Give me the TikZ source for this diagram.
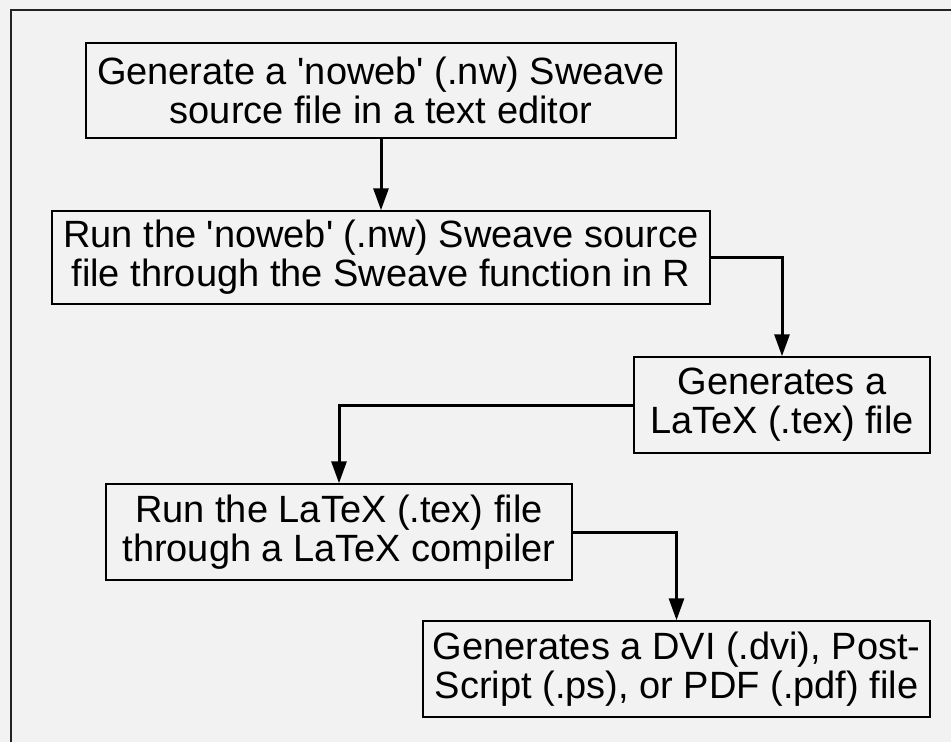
\documentclass[tikz,border=0pt]{standalone}
\usepackage{fontspec}
\setmainfont{Liberation Sans}
\usetikzlibrary{arrows.meta}
\definecolor{bg}{HTML}{F2F2F2}
\definecolor{frame}{HTML}{222222}
\begin{document}
\begin{tikzpicture}[x=1pt,y=-1pt,
  box/.style={draw=black, line width=1.5pt, fill=bg, rectangle, inner sep=0pt,
    align=center, font=\fontsize{38}{39}\selectfont},
  flow/.style={line width=3pt, -{Triangle[length=22pt,width=15pt]}}]
\useasboundingbox (0,0) rectangle (951,742);
\fill[bg] (0,0) rectangle (951,742);
\draw[frame, line width=2pt] (960,10) -- (11,10) -- (11,750);
\node[box, minimum width=590pt, minimum height=95pt] (n1) at (381,90.5)
  {Generate a \textquotesingle noweb\textquotesingle{} (.nw) Sweave\\source file in a text editor};
\node[box, minimum width=658pt, minimum height=93pt] (n2) at (381,257.5)
  {Run the \textquotesingle noweb\textquotesingle{} (.nw) Sweave source\\file through the Sweave function in R};
\node[box, minimum width=296pt, minimum height=96pt] (n3) at (782,405)
  {Generates a\\LaTeX (.tex) file};
\node[box, minimum width=466pt, minimum height=96pt] (n4) at (339,532)
  {Run the LaTeX (.tex) file\\through a LaTeX compiler};
\node[box, minimum width=507pt, minimum height=96pt] (n5) at (676.5,669)
  {Generates a DVI (.dvi), Post-\\Script (.ps), or PDF (.pdf) file};
\draw[flow] (n1.south) -- (n2.north);
\draw[flow] (n2.east) -| (n3.north);
\draw[flow] (n3.west) -| (n4.north);
\draw[flow] (n4.east) -| (n5.north);
\end{tikzpicture}
\end{document}
